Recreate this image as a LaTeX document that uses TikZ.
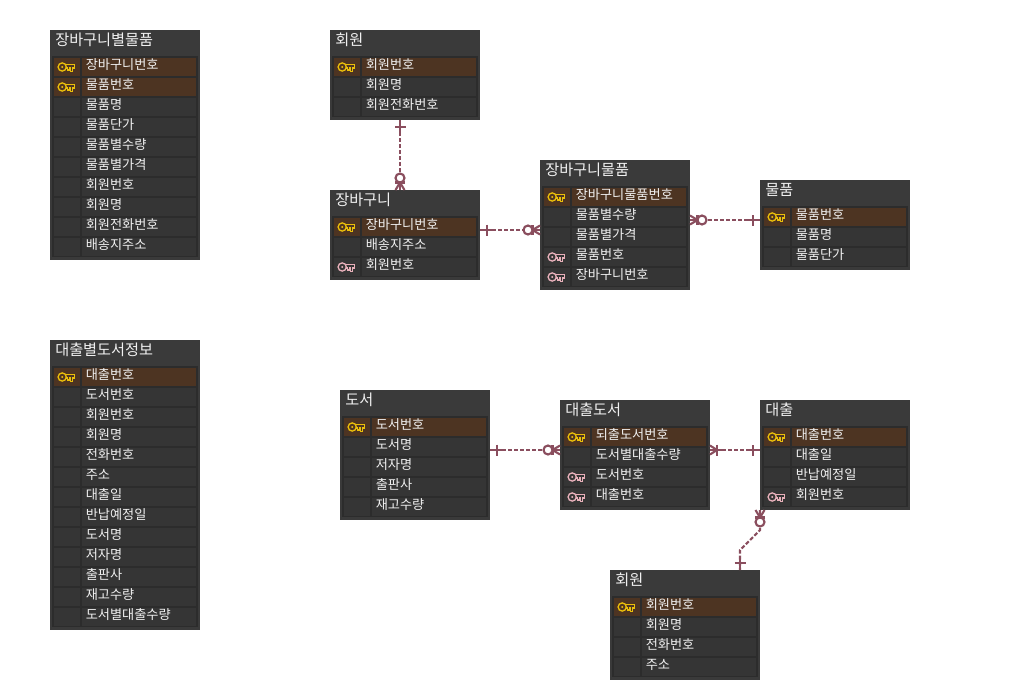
\documentclass[tikz,border=0pt]{standalone}
\usepackage{fontspec}
\setmainfont{Noto Sans CJK KR}
\usetikzlibrary{calc}
\definecolor{mytitle}{RGB}{58, 58, 58}
\definecolor{myframe}{RGB}{44, 44, 44}
\definecolor{mycell}{RGB}{53, 53, 53}
\definecolor{mykeycell}{RGB}{77, 52, 34}
\definecolor{mygold}{RGB}{235, 190, 10}
\definecolor{mypink}{RGB}{232, 176, 186}
\definecolor{myline}{RGB}{138, 78, 94}
\definecolor{mytext}{RGB}{240, 240, 240}
\newcommand{\keyshape}[1]{
\draw[#1, line width = 1pt] (-3.8, 0) circle (4.1);
\fill[#1] (-3.8, 0) circle (1.1);
\draw[#1, line width = 1pt, line join = miter] (0.3, -2.8) -- (8.2, -2.8) -- (8.2, 1) -- (6.6, 1) -- (6.6, 4.2) -- (4.8, 4.2) -- (4.8, 1) -- (3.6, 1) -- (3.6, 3) -- (1.8, 3) -- (1.8, 1) -- (0.3, 1);
}
\tikzset{
tablebox/.style = {fill = mytitle, inner sep = 0, outer sep = 0, anchor = north west, minimum width = 112.5pt},
framebox/.style = {fill = myframe, inner sep = 0, outer sep = 0, anchor = north west, minimum width = 109.5pt},
iconcell/.style = {inner sep = 0, outer sep = 0, anchor = north west, minimum width = 19.5pt, minimum height = 13.5pt},
textcell/.style = {inner sep = 0, outer sep = 0, anchor = north west, minimum width = 85.5pt, minimum height = 13.5pt},
titletext/.style = {text = mytext, inner sep = 0, anchor = west, font = \fontsize{11.4pt}{13pt}\selectfont},
rowtext/.style = {text = mytext, inner sep = 0, anchor = west, font = \fontsize{9.9pt}{12pt}\selectfont},
relation/.style = {draw = myline, line width = 1.6pt, dash pattern = on 3pt off 1.5pt},
endline/.style = {draw = myline, line width = 1.6pt},
pics/keygold/.style = {code = {\keyshape{mygold}}},
pics/keypink/.style = {code = {\keyshape{mypink}}},
pics/keynone/.style = {code = {}},
pics/onebar/.style = {code = {
\draw[endline] (0, 0) -- (12, 0);
\draw[endline] (7, -5.5) -- (7, 5.5);
}},
pics/onemany/.style = {code = {
\draw[endline] (0, 0) -- (12, 0);
\draw[endline] (7, -5.5) -- (7, 5.5);
\draw[endline] (0, -4.5) -- (7, 0) -- (0, 4.5);
}},
pics/zeromany/.style = {code = {
\draw[endline] (0, 0) -- (8, 0);
\draw[endline] (7.5, -5) -- (7.5, 5);
\draw[endline] (0, -4.5) -- (7.5, 0) -- (0, 4.5);
\draw[endline, fill = white] (12, 0) circle (4.5);
}},
}
\def\keymark{keygold}
% name, x, y, number of rows, title, rows
\newcommand{\ertable}[6]{
\node[tablebox, minimum height = {(30 + 20*#4)*0.75pt}] (#1) at (#2, #3) {};
\node[titletext] (#1title) at (#2 + 5, #3 + 10) {#5};
\node[framebox, minimum height = {(1 + 20*#4)*0.75pt}] (#1frame) at (#2 + 2, #3 + 26) {};
\foreach \kind/\rowname [count = \i from 0] in {#6} {
\ifx\kind\keymark\def\rowfill{mykeycell}\else\def\rowfill{mycell}\fi
\node[iconcell, fill = \rowfill] (#1icon\i) at (#2 + 4, #3 + 27.5 + 20*\i) {};
\node[textcell, fill = \rowfill] (#1cell\i) at (#2 + 32, #3 + 27.5 + 20*\i) {};
\node[rowtext] (#1text\i) at (#2 + 35.5, #3 + 34.5 + 20*\i) {\rowname};
\pic at (#2 + 16, #3 + 37 + 20*\i) {\kind};
}
}
\begin{document}
\begin{tikzpicture}[x = 0.75pt, y = -0.75pt]
\useasboundingbox (0, 0) rectangle (1010, 682);

\ertable{cartitem}{50}{30}{10}{장바구니별물품}{keygold/장바구니번호, keygold/물품번호, keynone/물품명, keynone/물품단가, keynone/물품별수량, keynone/물품별가격, keynone/회원번호, keynone/회원명, keynone/회원전화번호, keynone/배송지주소}
\ertable{member}{330}{30}{3}{회원}{keygold/회원번호, keynone/회원명, keynone/회원전화번호}
\ertable{cart}{330}{190}{3}{장바구니}{keygold/장바구니번호, keynone/배송지주소, keypink/회원번호}
\ertable{basket}{540}{160}{5}{장바구니물품}{keygold/장바구니물품번호, keynone/물품별수량, keynone/물품별가격, keypink/물품번호, keypink/장바구니번호}
\ertable{goods}{760}{180}{3}{물품}{keygold/물품번호, keynone/물품명, keynone/물품단가}
\ertable{loaninfo}{50}{340}{13}{대출별도서정보}{keygold/대출번호, keynone/도서번호, keynone/회원번호, keynone/회원명, keynone/전화번호, keynone/주소, keynone/대출일, keynone/반납예정일, keynone/도서명, keynone/저자명, keynone/출판사, keynone/재고수량, keynone/도서별대출수량}
\ertable{book}{340}{390}{5}{도서}{keygold/도서번호, keynone/도서명, keynone/저자명, keynone/출판사, keynone/재고수량}
\ertable{loanbook}{560}{400}{4}{대출도서}{keygold/되출도서번호, keynone/도서별대출수량, keypink/도서번호, keypink/대출번호}
\ertable{loan}{760}{400}{4}{대출}{keygold/대출번호, keynone/대출일, keynone/반납예정일, keypink/회원번호}
\ertable{borrower}{610}{570}{4}{회원}{keygold/회원번호, keynone/회원명, keynone/전화번호, keynone/주소}

\coordinate (memberS) at ($(member.south) + (-5, 0)$);
\coordinate (cartN) at ($(cart.north) + (-5, 0)$);
\coordinate (cartE) at ($(cart.east) + (0, -5)$);
\coordinate (basketW) at ($(basket.west) + (0, 5)$);
\coordinate (basketE) at ($(basket.east) + (0, -5)$);
\coordinate (goodsW) at ($(goods.west) + (0, -5)$);
\coordinate (bookE) at ($(book.east) + (0, -5)$);
\coordinate (loanbookW) at ($(loanbook.west) + (0, -5)$);
\coordinate (loanbookE) at ($(loanbook.east) + (0, -5)$);
\coordinate (loanW) at ($(loan.west) + (0, -5)$);
\coordinate (loanS) at ($(loan.south) + (-75, 0)$);
\coordinate (borrowerN) at ($(borrower.north) + (55, 0)$);
\coordinate (bendA) at ($(loanS) + (0, 20)$);
\coordinate (bendB) at ($(borrowerN) + (0, -20)$);

\draw[relation] (memberS) -- (cartN);
\draw[relation] (cartE) -- (basketW);
\draw[relation] (basketE) -- (goodsW);
\draw[relation] (bookE) -- (loanbookW);
\draw[relation] (loanbookE) -- (loanW);
\draw[relation] (loanS) -- (bendA) -- (bendB) -- (borrowerN);

\pic[rotate = -90] at (memberS) {onebar};
\pic[rotate = 90] at (cartN) {zeromany};
\pic at (cartE) {onebar};
\pic[rotate = 180] at (basketW) {zeromany};
\pic at (basketE) {zeromany};
\pic[rotate = 180] at (goodsW) {onebar};
\pic at (bookE) {onebar};
\pic[rotate = 180] at (loanbookW) {zeromany};
\pic at (loanbookE) {onemany};
\pic[rotate = 180] at (loanW) {onebar};
\pic[rotate = -90] at (loanS) {zeromany};
\pic[rotate = 90] at (borrowerN) {onebar};
\end{tikzpicture}
\end{document}
